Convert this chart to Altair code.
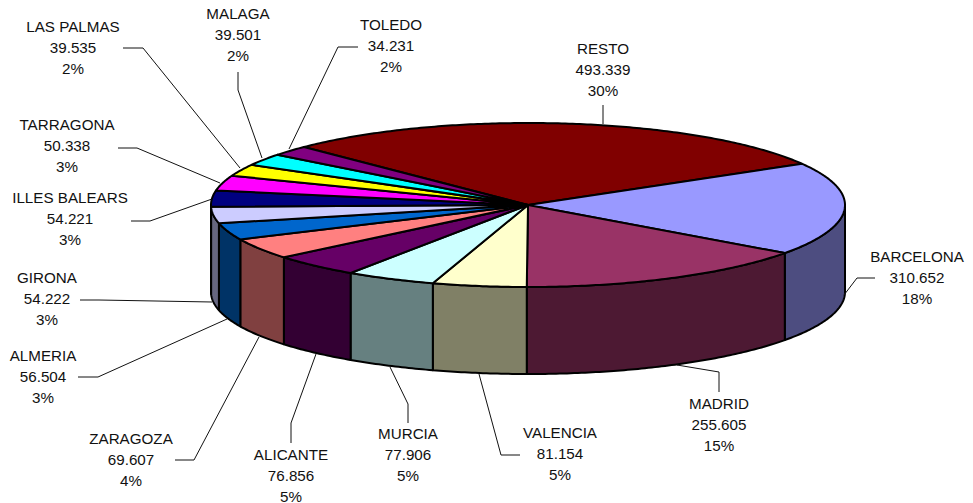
import math
import altair as alt
import pandas as pd

# --- data (clockwise from the first slice) ---
NAMES = ["RESTO", "BARCELONA", "MADRID", "VALENCIA", "MURCIA", "ALICANTE", "ZARAGOZA",
         "ALMERIA", "GIRONA", "ILLES BALEARS", "TARRAGONA", "LAS PALMAS", "MALAGA", "TOLEDO"]
VALUES = [493339, 310652, 255605, 81154, 77906, 76856, 69607,
          56504, 54222, 54221, 50338, 39535, 39501, 34231]
PERCENTS = [30, 18, 15, 5, 5, 5, 4, 3, 3, 3, 3, 2, 2, 2]

# --- styles ---
TOP_COLORS = ["#800000", "#9999FF", "#993366", "#FFFFCC", "#CCFFFF", "#660066", "#FF8080",
              "#0066CC", "#CCCCFF", "#000080", "#FF00FF", "#FFFF00", "#00FFFF", "#800080"]
SIDE_COLORS = ["#400000", "#4D4D80", "#4D1933", "#808066", "#668080", "#330033", "#804040",
               "#003366", "#666680", "#000040", "#800080", "#808000", "#008080", "#400040"]

# --- layout, in window pixels ---
CX, CY, RX, RY, DEPTH = 528, 205, 317, 82, 87
START_ANGLE = -45
LABEL_X = [603, 917, 719, 560, 408, 291, 131, 43, 47, 70, 67, 73, 238, 391]
LABEL_Y = [49, 257, 404, 433, 434, 455, 439, 356, 278, 198, 125, 27, 14, 25]
LEADER_X = [[603, 603], [875, 857, 844], [719, 719, 677], [520, 501, 479], [408, 408, 390],
            [291, 291, 316], [175, 194, 259], [78, 98, 227], [80, 99, 212], [131, 150, 212],
            [118, 137, 220], [123, 143, 240], [238, 238, 262], [358, 338, 289]]
LEADER_Y = [[105, 124], [278, 278, 295], [392, 372, 365], [455, 455, 374], [423, 404, 367],
            [443, 423, 354], [460, 460, 337], [377, 377, 319], [300, 300, 302], [221, 221, 199],
            [148, 148, 183], [48, 48, 168], [72, 90, 158], [47, 47, 149]]

xs = alt.X("x:Q", scale=alt.Scale(domain=[8, 965]), axis=None)
ys = alt.Y("y:Q", scale=alt.Scale(domain=[503, 8]), axis=None)


def pt(a, dy=0):
    r = math.radians(a)
    return CX + RX * math.sin(r), CY - RY * math.cos(r) + dy


def arc(a0, a1, dy=0):
    n = max(2, int(abs(a1 - a0) * 1.5) + 2)
    return [pt(a0 + (a1 - a0) * i / (n - 1), dy) for i in range(n)]


def poly(points, fill, width=2):
    df = pd.DataFrame(points + [points[0]], columns=["x", "y"])
    df["i"] = range(len(df))
    return alt.Chart(df).mark_line(fill=fill, stroke="black", strokeWidth=width,
                                   strokeJoin="round").encode(
        x=xs, y=ys, order="i:Q")


total = sum(VALUES)
edges = [START_ANGLE]
for v in VALUES:
    edges.append(edges[-1] + 360 * v / total)

walls, tops = [], []
for k in range(len(VALUES)):
    a0, a1 = edges[k], edges[k + 1]
    w0, w1 = max(a0, 90), min(a1, 270)
    if w1 > w0:
        walls.append(poly(arc(w0, w1) + arc(w1, w0, DEPTH), SIDE_COLORS[k]))
    tops.append(poly([(CX, CY)] + arc(a0, a1), TOP_COLORS[k]))

leaders = []
for lx, ly in zip(LEADER_X, LEADER_Y):
    df = pd.DataFrame({"x": lx, "y": ly, "i": range(len(lx))})
    leaders.append(alt.Chart(df).mark_line(color="#111111", strokeWidth=1).encode(
        x=xs, y=ys, order="i:Q"))

labels = pd.DataFrame({
    "x": LABEL_X,
    "y": LABEL_Y,
    "t": [f"{n}\n{v:,}\n{p}%".replace(",", ".")
          for n, v, p in zip(NAMES, VALUES, PERCENTS)],
})
text = alt.Chart(labels).mark_text(font="Liberation Sans", fontSize=15.2, color="#111111",
                                   lineBreak="\n", lineHeight=21.2, align="center",
                                   baseline="middle").encode(x=xs, y=ys, text="t:N")

chart = alt.layer(*walls, *tops, *leaders, text).properties(
    width=957, height=495, padding=0, background="white",
    autosize=alt.AutoSizeParams(type="none"),
).configure_view(stroke=None)

chart.save("out.html", embed_options={"renderer": "svg", "actions": False})
